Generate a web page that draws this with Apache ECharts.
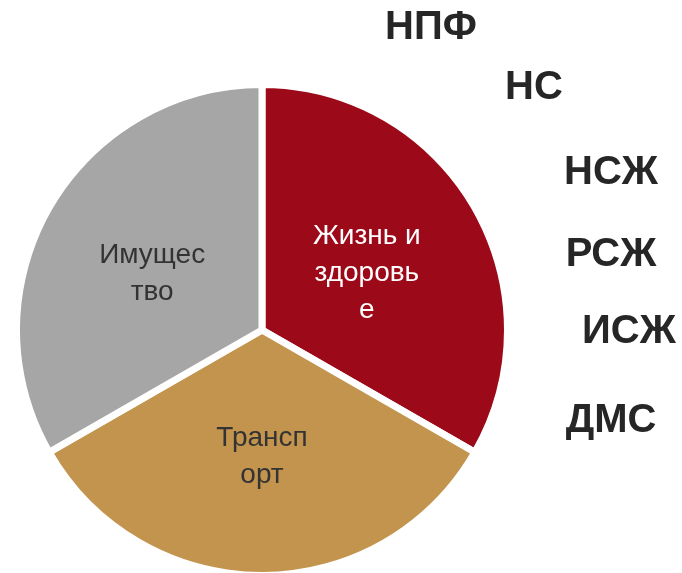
<!DOCTYPE html>
<html>
<head>
<meta charset="utf-8">
<script src="https://cdn.jsdelivr.net/npm/echarts@6/dist/echarts.min.js"></script>
<style>
html,body{margin:0;padding:0;background:#fff;}
#chart{width:682px;height:573px;}
</style>
</head>
<body>
<div id="chart"></div>
<script>
// Data
var categories = ['Жизнь и здоровье', 'Транспорт', 'Имущество'];
var shares = [33.3, 33.4, 33.3];
var sliceLabels = ['Жизнь и\nздоровь\nе', 'Трансп\nорт', 'Имущес\nтво'];
var sideLabels = ['НПФ', 'НС', 'НСЖ', 'РСЖ', 'ИСЖ', 'ДМС'];

// Styling / layout (not data)
var sliceColors = ['#9C0A19', '#C3944E', '#A6A6A6'];
var labelColors = ['#ffffff', '#333333', '#333333'];
var labelOffsets = [[-4, 6], [0, 1], [-1, 7]];
var sideLayout = [[431, 28], [534, 88], [611, 173], [611, 255], [629, 332], [611, 421]];

var chart = echarts.init(document.getElementById('chart'), null, {renderer: 'canvas'});

var pieData = categories.map(function (c, i) {
  return {
    name: c,
    value: shares[i],
    itemStyle: {color: sliceColors[i]},
    label: {color: labelColors[i], offset: labelOffsets[i]}
  };
});

var graphics = sideLabels.map(function (t, i) {
  return {
    type: 'text',
    x: sideLayout[i][0],
    y: sideLayout[i][1],
    style: {
      text: t,
      fill: '#262626',
      font: 'bold 40px "Liberation Sans", Arial, sans-serif',
      textAlign: 'center',
      textVerticalAlign: 'middle'
    }
  };
});

chart.setOption({
  animation: false,
  backgroundColor: '#ffffff',
  graphic: graphics,
  series: [{
    type: 'pie',
    center: [262, 330],
    radius: [0, 245.5],
    startAngle: 90,
    clockwise: true,
    avoidLabelOverlap: false,
    itemStyle: {borderColor: '#ffffff', borderWidth: 7},
    label: {
      show: true,
      position: 'inside',
      fontFamily: '"Liberation Sans", Arial, sans-serif',
      fontSize: 28,
      lineHeight: 37,
      align: 'center',
      formatter: function (p) { return sliceLabels[p.dataIndex]; }
    },
    labelLine: {show: false},
    emphasis: {disabled: true},
    data: pieData
  }]
});
</script>
</body>
</html>
